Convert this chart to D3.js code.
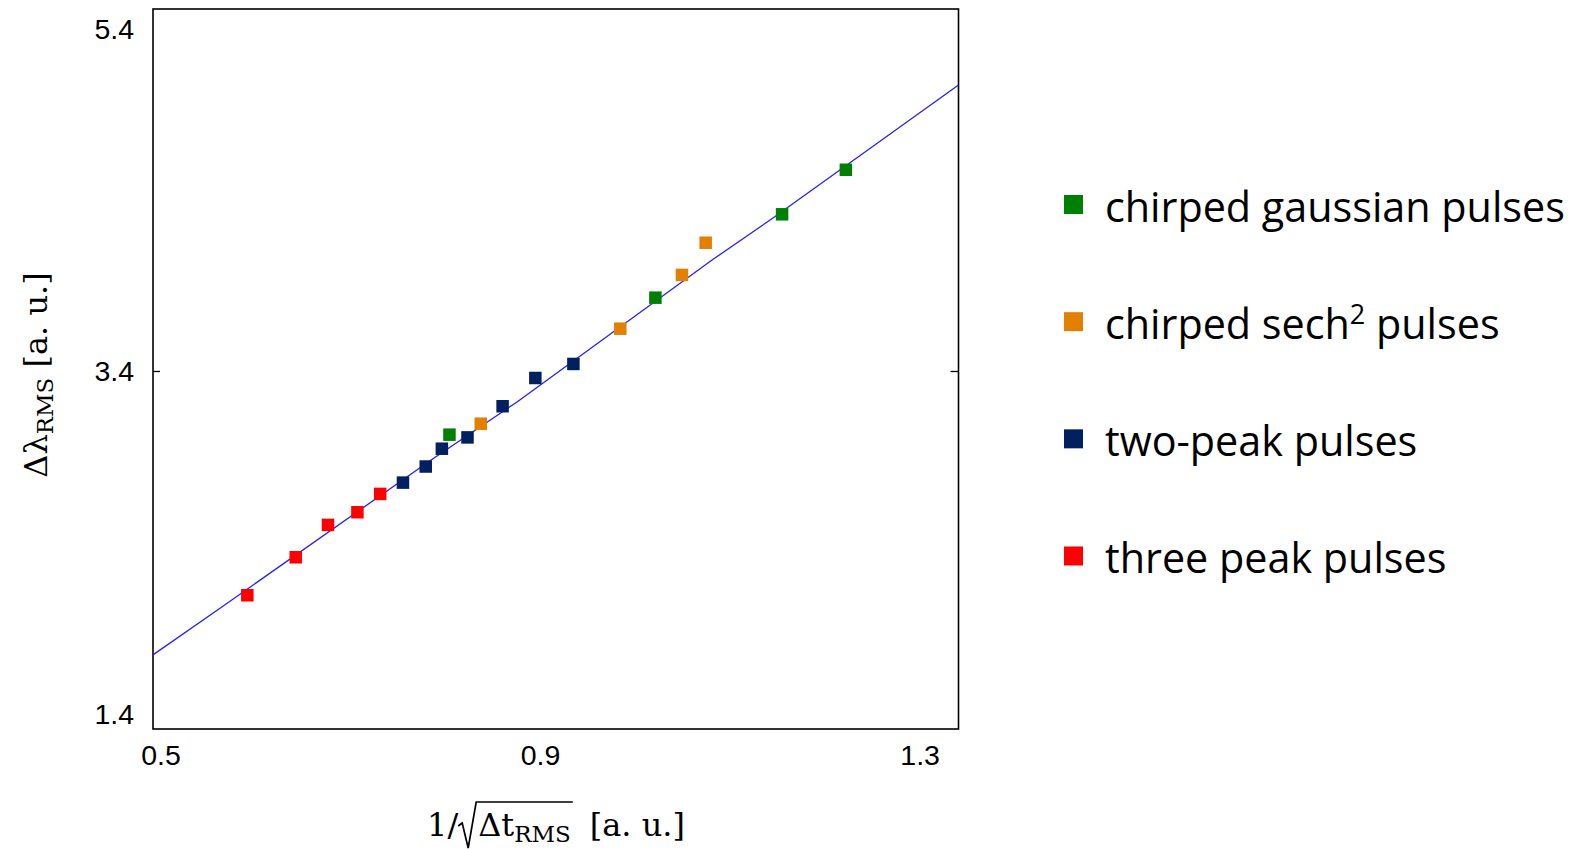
<!DOCTYPE html>
<html>
<head>
<meta charset="utf-8">
<script src="https://cdn.jsdelivr.net/npm/d3@7"></script>
<style>
  body { margin: 0; background: #fff; }
</style>
</head>
<body>
<div class="chart"></div>
<script>
var width = 1573;
var height = 849;

// series: [1/sqrt(dt), dlambda]
var gaussX = [0.804, 1.021, 1.1545, 1.2217];
var gaussY = [3.031, 3.831, 4.318, 4.578];

var sechX = [0.837, 0.984, 1.049, 1.074];
var sechY = [3.095, 3.650, 3.964, 4.152];

var twoPeakX = [0.755, 0.779, 0.796, 0.823, 0.860, 0.8945, 0.9346];
var twoPeakY = [2.751, 2.845, 2.949, 3.015, 3.197, 3.362, 3.444];

var threePeakX = [0.591, 0.642, 0.676, 0.707, 0.731];
var threePeakY = [2.093, 2.315, 2.504, 2.578, 2.685];

// fitted curve
var fitX = [0.4916, 0.5622, 0.7835, 0.8752, 1.0818, 1.1419, 1.3404];
var fitY = [1.745, 2.017, 2.879, 3.222, 4.055, 4.285, 5.073];

var xTicks = [0.5, 0.9, 1.3];
var yTicks = [1.4, 3.4, 5.4];

var seriesNames = ["chirped gaussian pulses", "chirped sech", "two-peak pulses", "three peak pulses"];
var seriesColors = ["#008000", "#e38000", "#002060", "#ff0000"];

var svg = d3.select(".chart").append("svg")
  .attr("width", width)
  .attr("height", height);

var x = d3.scaleLinear().domain([0.4916, 1.3404]).range([153, 958.5]);
var y = d3.scaleLinear().domain([1.312, 5.517]).range([729, 9]);

// frame
svg.append("rect")
  .attr("x", x.range()[0])
  .attr("y", y.range()[1])
  .attr("width", x.range()[1] - x.range()[0])
  .attr("height", y.range()[0] - y.range()[1])
  .attr("fill", "none")
  .attr("stroke", "#000")
  .attr("stroke-width", 1.6);

// y ticks (only the middle one has visible marks)
var midTick = [yTicks[1]];
svg.selectAll(".ytickL").data(midTick).enter().append("line")
  .attr("x1", x.range()[0]).attr("x2", x.range()[0] + 7)
  .attr("y1", function(d){ return y(d); }).attr("y2", function(d){ return y(d); })
  .attr("stroke", "#000").attr("stroke-width", 1.3);
svg.selectAll(".ytickR").data(midTick).enter().append("line")
  .attr("x1", x.range()[1] - 8).attr("x2", x.range()[1])
  .attr("y1", function(d){ return y(d); }).attr("y2", function(d){ return y(d); })
  .attr("stroke", "#000").attr("stroke-width", 1.3);

svg.selectAll(".ylab").data(yTicks).enter().append("text")
  .attr("x", 134)
  .attr("y", function(d){ return y(d) + 10; })
  .attr("text-anchor", "end")
  .attr("font-family", "Liberation Sans, Arial, sans-serif")
  .attr("font-size", 28.5)
  .text(function(d){ return d.toFixed(1); });

svg.selectAll(".xlab").data(xTicks).enter().append("text")
  .attr("x", function(d){ return x(d); })
  .attr("y", 765)
  .attr("text-anchor", "middle")
  .attr("font-family", "Liberation Sans, Arial, sans-serif")
  .attr("font-size", 28.5)
  .text(function(d){ return d.toFixed(1); });

// fit line
var line = d3.line()
  .x(function(d){ return x(d[0]); })
  .y(function(d){ return y(d[1]); });

svg.append("path")
  .datum(d3.zip(fitX, fitY))
  .attr("d", line)
  .attr("fill", "none")
  .attr("stroke", "#2020ff")
  .attr("stroke-width", 1.3);

// markers
var allSeries = [
  d3.zip(gaussX, gaussY),
  d3.zip(sechX, sechY),
  d3.zip(twoPeakX, twoPeakY),
  d3.zip(threePeakX, threePeakY)
];
var sq = 12.5;

allSeries.forEach(function(pts, i){
  svg.selectAll(".m" + i).data(pts).enter().append("rect")
    .attr("class", "m" + i)
    .attr("x", function(d){ return x(d[0]) - sq / 2; })
    .attr("y", function(d){ return y(d[1]) - sq / 2; })
    .attr("width", sq)
    .attr("height", sq)
    .attr("fill", seriesColors[i]);
});

// legend
var legY = d3.scaleLinear().domain([0, 3]).range([204.5, 556]);
var leg = svg.selectAll(".leg").data(seriesNames).enter().append("g")
  .attr("transform", function(d, i){ return "translate(1064," + legY(i) + ")"; });

leg.append("rect")
  .attr("x", 0).attr("y", -9.5)
  .attr("width", 19).attr("height", 19)
  .attr("fill", function(d, i){ return seriesColors[i]; });

var legText = leg.append("text")
  .attr("x", 41)
  .attr("y", 17)
  .attr("font-family", "Open Sans, Noto Sans, sans-serif")
  .attr("font-size", 41.3)
  .attr("fill", "#000");
legText.append("tspan").text(function(d){ return d; });
legText.filter(function(d, i){ return i == 1; }).each(function(){
  var t = d3.select(this);
  t.append("tspan").attr("font-size", 27).attr("dy", -15).text("2");
  t.append("tspan").attr("dy", 15).text(" pulses");
});

// x axis title: 1/sqrt(dt_RMS) [a. u.]
var serif = "DejaVu Serif, Liberation Serif, serif";
var xt = svg.append("g");
var base = 836;
var fs = 32;
var p1 = xt.append("text").attr("y", base).attr("font-family", serif).attr("font-size", fs).text("1/");
var p2 = xt.append("text").attr("y", base).attr("font-family", serif).attr("font-size", fs);
p2.append("tspan").text("Δt");
p2.append("tspan").attr("font-size", 23).attr("dy", 6).text("RMS");
var p3 = xt.append("text").attr("y", base).attr("font-family", serif).attr("font-size", fs).text("[a. u.]");

var w1 = p1.node().getComputedTextLength();
var w2 = p2.node().getComputedTextLength();
var w3 = p3.node().getComputedTextLength();
var radW = 20, gap = 19;
var total = w1 + radW + w2 + gap + w3;
var x0 = 556 - total / 2;

p1.attr("x", x0);
var rx = x0 + w1;
xt.append("path")
  .attr("d", "M" + (rx) + "," + (base - 10) + " L" + (rx + 4) + "," + (base - 13) +
    " L" + (rx + 10) + "," + (base + 12) + " L" + (rx + 18) + "," + (base - 34) +
    " L" + (rx + radW + w2 + 2) + "," + (base - 34))
  .attr("fill", "none")
  .attr("stroke", "#000")
  .attr("stroke-width", 1.7);
p2.attr("x", rx + radW);
p3.attr("x", rx + radW + w2 + gap);

// y axis title
var yt = svg.append("text")
  .attr("transform", "translate(47,375) rotate(-90)")
  .attr("text-anchor", "middle")
  .attr("font-family", serif)
  .attr("font-size", fs);
yt.append("tspan").text("Δλ");
yt.append("tspan").attr("font-size", 23).attr("dy", 6).text("RMS");
yt.append("tspan").attr("dy", -6).text(" [a. u.]");
</script>
</body>
</html>
